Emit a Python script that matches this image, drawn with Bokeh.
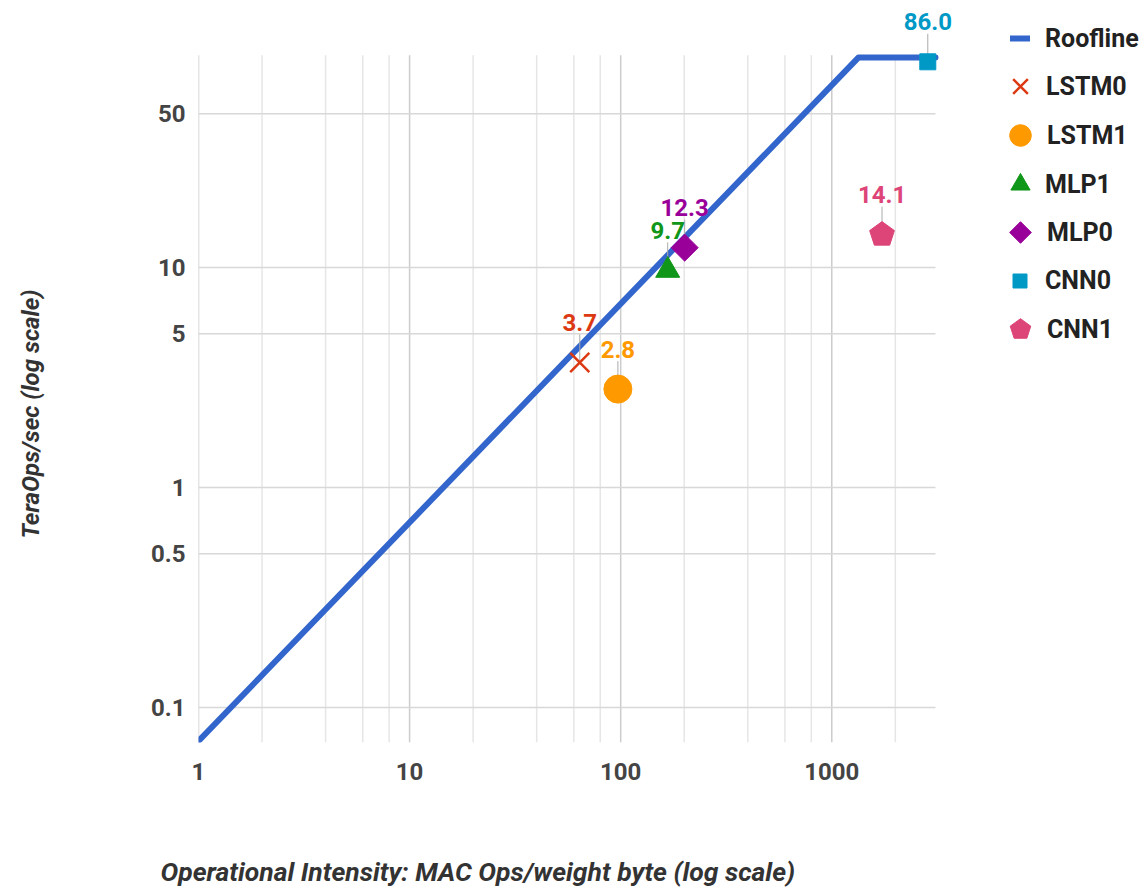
import numpy as np
from bokeh.plotting import figure
from bokeh.models import (FixedTicker, CustomJSTickFormatter, Legend, LegendItem,
                          LabelSet, ColumnDataSource, Range1d, Title, LinearAxis)
from bokeh.embed import file_html
from bokeh.resources import INLINE
from bokeh.core.properties import value

# ---------------- data ----------------
roof_x = [1, 1340, 3100]
roof_y = [0.0705, 90.0, 90.0]

names = ["LSTM0", "LSTM1", "MLP1", "MLP0", "CNN0", "CNN1"]
intensity = [64, 97, 167, 201, 2850, 1730]
teraops = [3.7, 2.8, 9.7, 12.3, 86.0, 14.1]
value_labels = ["3.7", "2.8", "9.7", "12.3", "86.0", "14.1"]
colors = ["#dc3912", "#ff9900", "#109618", "#990099", "#0099c6", "#dd4477"]

x_ticks = [1, 10, 100, 1000]
x_minor_ticks = [m * 10 ** d for d in range(4) for m in (2, 4, 6, 8)]
y_ticks = [0.1, 0.5, 1, 5, 10, 50]

# extent of the gridded chart area (axis range of the original chart)
x_min, x_max = 1, 3100
y_min, y_max = 0.0694, 92

x_title = "Operational Intensity: MAC Ops/weight byte (log scale)"
y_title = "TeraOps/sec (log scale)"

FONT = "Roboto"

# the frame is extended to the right / top so that legend and labels are not clipped
p = figure(x_axis_type="log", y_axis_type="log",
           x_range=Range1d(x_min, 29650), y_range=Range1d(y_min, 155),
           frame_width=944, frame_height=737,
           min_border_left=198, min_border_top=5,
           min_border_right=0, min_border_bottom=148,
           output_backend="svg", toolbar_location=None)
p.outline_line_color = None
p.background_fill_color = "white"
p.border_fill_color = "white"
p.grid.visible = False

# ticks
p.xaxis.ticker = FixedTicker(ticks=x_ticks, minor_ticks=[])
p.yaxis.ticker = FixedTicker(ticks=y_ticks, minor_ticks=[])
p.xaxis.formatter = CustomJSTickFormatter(code="return String(tick);")
p.yaxis.formatter = CustomJSTickFormatter(code="return String(tick);")

for ax in (p.xaxis, p.yaxis):
    ax.axis_line_color = None
    ax.major_tick_line_color = None
    ax.minor_tick_line_color = None
    ax.major_tick_out = 0
    ax.major_tick_in = 0
    ax.minor_tick_out = 0
    ax.minor_tick_in = 0
    ax.major_label_text_font = FONT
    ax.major_label_text_font_style = "bold"
    ax.major_label_text_font_size = "24px"
    ax.major_label_text_color = "#444444"

p.xaxis.major_label_standoff = 20
p.yaxis.major_label_standoff = 13


def spacer_axis(width, tick):
    """An invisible axis used only to reserve space between tick labels and a title."""
    return LinearAxis(ticker=FixedTicker(ticks=[tick], minor_ticks=[]),
                      formatter=CustomJSTickFormatter(code="return '';"),
                      major_tick_out=width, major_tick_in=0,
                      minor_tick_out=0, minor_tick_in=0, major_label_standoff=0,
                      major_label_text_font_size="1px",
                      axis_line_color=None, major_tick_line_color=None,
                      minor_tick_line_color=None)


# grid lines (drawn within the chart area only)
minor_x = [v for v in x_minor_ticks if v <= x_max]
p.segment(x0=minor_x, y0=[y_min] * len(minor_x), x1=minor_x, y1=[y_max] * len(minor_x),
          line_color="#e6e6e6", line_width=1.5)
p.segment(x0=x_ticks, y0=[y_min] * len(x_ticks), x1=x_ticks, y1=[y_max] * len(x_ticks),
          line_color="#cccccc", line_width=1.5)
p.segment(x0=[x_min] * len(y_ticks), y0=y_ticks, x1=[x_max] * len(y_ticks), y1=y_ticks,
          line_color="#d8d8d8", line_width=1.5)

# axis titles
p.add_layout(spacer_axis(71, 10), "below")
xt = Title(text=x_title, align="left", offset=-38, standoff=0, vertical_align="bottom",
           text_font=FONT, text_font_style="bold italic", text_font_size="26.5px",
           text_color="#333333")
p.add_layout(xt, "below")

p.add_layout(spacer_axis(103, 1), "left")
yt = Title(text=y_title, align="left", offset=204, standoff=0, vertical_align="bottom",
           text_font=FONT, text_font_style="bold italic", text_font_size="24px",
           text_color="#333333")
p.add_layout(yt, "left")

# roofline
r_roof = p.line(roof_x, roof_y, line_color="#3366cc", line_width=6, line_cap="round", line_join="round")

src = ColumnDataSource(dict(x=intensity, y=teraops, text=value_labels, color=colors, name=names))

# annotation stems
p.ray(x=intensity, y=teraops, length=28, length_units="screen", angle=np.pi / 2,
      line_color="#aaaaaa", line_width=1)

r0 = p.scatter([intensity[0]], [teraops[0]], marker="x", size=27, line_color=colors[0], line_width=2.5)
r1 = p.scatter([intensity[1]], [teraops[1]], marker="circle", size=28, fill_color=colors[1], line_color=colors[1])
r2 = p.scatter([intensity[2]], [teraops[2]], marker="triangle", size=24, fill_color=colors[2], line_color=colors[2])
r3 = p.ngon(x=[intensity[3]], y=[teraops[3]], radius=13.5, radius_units="screen", n=4, angle=0,
            fill_color=colors[3], line_color=colors[3])
r4 = p.scatter([intensity[4]], [teraops[4]], marker="square", size=16, fill_color=colors[4], line_color=colors[4])
r5 = p.ngon(x=[intensity[5]], y=[teraops[5]], radius=13, radius_units="screen", n=5, angle=0,
            fill_color=colors[5], line_color=colors[5])
renderers = [r0, r1, r2, r3, r4, r5]

labels = LabelSet(x="x", y="y", text="text", source=src, text_color="color",
                  text_font=value(FONT), text_font_style="bold", text_font_size="24px",
                  text_align="center", text_baseline="middle", y_offset=40)
p.add_layout(labels)

# legend: one small legend per entry so that each symbol gets its own size
FRAME_LEFT, FRAME_BOTTOM = 198, 742       # page pixels of the frame
GLYPH_CX, LABEL_X = 1020, 1045            # legend symbol centre / label start (page px)
ROW0, ROW_STEP = 38, 48.5                 # first legend row centre and pitch (page px)

legend_entries = [("Roofline", r_roof, 20, 32)] + [
    (nm, r, g, g) for nm, r, g in zip(names, renderers, [52, 54, 48, 54, 35, 54])
]

for i, (lab, rend, gw, gh) in enumerate(legend_entries):
    yc = ROW0 + i * ROW_STEP
    h = max(gh, 32)
    lg = Legend(items=[LegendItem(label=lab, renderers=[rend])],
                location=(int(round(GLYPH_CX - gw / 2 - FRAME_LEFT)),
                          int(round(FRAME_BOTTOM - yc - h / 2))))
    lg.border_line_color = None
    lg.background_fill_alpha = 0
    lg.padding = 0
    lg.margin = 0
    lg.spacing = 0
    lg.glyph_width = gw
    lg.glyph_height = gh
    lg.label_height = 32
    lg.label_standoff = max(0, int(round(LABEL_X - (GLYPH_CX + gw / 2))))
    lg.label_text_font = FONT
    lg.label_text_font_style = "bold"
    lg.label_text_font_size = "25px"
    lg.label_text_color = "#222222"
    lg.label_text_baseline = "middle"
    p.add_layout(lg)

open("out.html", "w").write(file_html(p, INLINE))
